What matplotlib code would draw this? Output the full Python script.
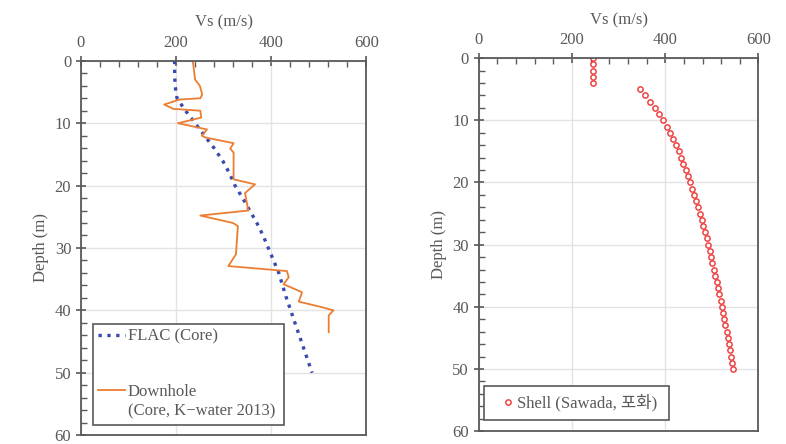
import numpy as np
import matplotlib.pyplot as plt
from matplotlib.ticker import MultipleLocator
from matplotlib.lines import Line2D

# FLAC (Core) profile
flac_depth = [0, 2, 4, 6, 8, 10, 12, 14, 16, 18, 20, 22, 24, 26, 28, 30,
              32, 34, 36, 38, 40, 42, 44, 46, 48, 50]
flac_vs = [197, 197, 198, 202, 220, 240, 260, 280, 298, 312, 324, 340, 355,
           370, 383, 394, 405, 416, 424, 432, 441, 450, 459, 468, 477, 486]

# Downhole (Core, K-water 2013)
dh_depth = [0, 0.5, 3, 4, 5.4, 6, 6.2, 7, 7.7, 8, 9.1, 10, 11, 12, 12.3,
            13.2, 14.1, 14.7, 19, 19.8, 21.2, 24, 24.8, 26, 26.5, 31,
            32.9, 33.7, 34.7, 35.8, 37.1, 38.6, 39.5, 40, 40.8, 43.5]
dh_vs = [235, 236, 240, 250, 255, 251, 208, 175, 194, 251, 253, 204, 265,
         254, 262, 321, 314, 321, 321, 366, 345, 352, 251, 320, 330, 326,
         310, 433, 437, 426, 465, 458, 507, 531, 521, 521]

# Shell (Sawada)
shell_depth = list(range(0, 5)) + list(range(5, 51))
shell_vs = [245, 245, 245, 245, 245,
            345, 357, 368, 378, 387, 396, 403, 410, 417, 423,
            429, 434, 439, 444, 449, 453, 458, 462, 466, 470,
            474, 478, 482, 485, 489, 492, 495, 498, 501, 504,
            507, 510, 513, 516, 519, 522, 524, 527, 529, 532,
            534, 537, 539, 541, 543, 546]

plt.rcParams['font.family'] = ['Liberation Serif', 'Noto Sans CJK KR']
plt.rcParams['font.size'] = 12

gray = '#595959'

fig = plt.figure(figsize=(7.86, 4.44), dpi=100)
ax1 = fig.add_axes([0.103, 0.020, 0.363, 0.843])
ax2 = fig.add_axes([0.609, 0.029, 0.356, 0.840])

for ax in (ax1, ax2):
    ax.set_xlim(0, 600)
    ax.set_ylim(60, 0)
    ax.xaxis.tick_top()
    ax.xaxis.set_label_position('top')
    ax.xaxis.set_major_locator(MultipleLocator(200))
    ax.xaxis.set_minor_locator(MultipleLocator(40))
    ax.yaxis.set_major_locator(MultipleLocator(10))
    ax.yaxis.set_minor_locator(MultipleLocator(2))
    ax.tick_params(which='major', direction='inout', length=7, width=1.2,
                   colors=gray, labelsize=12, labelcolor=gray)
    ax.tick_params(which='minor', direction='in', length=4, width=1.0, colors=gray)
    ax.tick_params(axis='x', which='both', bottom=False)
    ax.tick_params(axis='y', which='both', right=False)
    for s in ax.spines.values():
        s.set_color(gray)
        s.set_linewidth(1.3)
    ax.grid(True, which='major', color='#e3e3e3', linewidth=1.0)
    ax.set_axisbelow(True)
    ax.set_xlabel('Vs (m/s)', color=gray, labelpad=6)
    ax.set_ylabel('Depth (m)', color=gray, labelpad=4)

l_flac, = ax1.plot(flac_vs, flac_depth, linestyle=':', color='#3949b0', linewidth=2.4)
l_dh, = ax1.plot(dh_vs, dh_depth, color='#ed7d31', linewidth=1.3)
blank = Line2D([], [], linestyle='none')
# blank entry only adds vertical room between the two series
leg1 = ax1.legend([l_flac, blank, l_dh, blank],
                  ['FLAC (Core)', ' ', 'Downhole', '(Core, K\u2212water 2013) '],
                  loc='lower left', bbox_to_anchor=(0.042, 0.028), borderaxespad=0,
                  fancybox=False, edgecolor=gray, framealpha=1, labelspacing=0.2,
                  handlelength=1.6, handletextpad=0.2, borderpad=0.3, fontsize=12)
leg1.get_frame().set_linewidth(1.2)
for t in leg1.get_texts():
    t.set_color(gray)
leg1.get_texts()[1].set_fontsize(26)

ax2.plot(shell_vs, shell_depth, linestyle='none', marker='o', markersize=3.8,
         markerfacecolor='white', markeredgecolor='#ee4444', markeredgewidth=1.1,
         label='Shell (Sawada, 포화) ')
leg2 = ax2.legend(loc='lower left', bbox_to_anchor=(0.02, 0.03), borderaxespad=0,
                  fancybox=False, edgecolor=gray, framealpha=1, handlelength=1.9,
                  handletextpad=-0.45, borderpad=0.5, fontsize=12)
leg2.get_frame().set_linewidth(1.2)
for t in leg2.get_texts():
    t.set_color(gray)

fig.savefig('out.png', dpi=100)
